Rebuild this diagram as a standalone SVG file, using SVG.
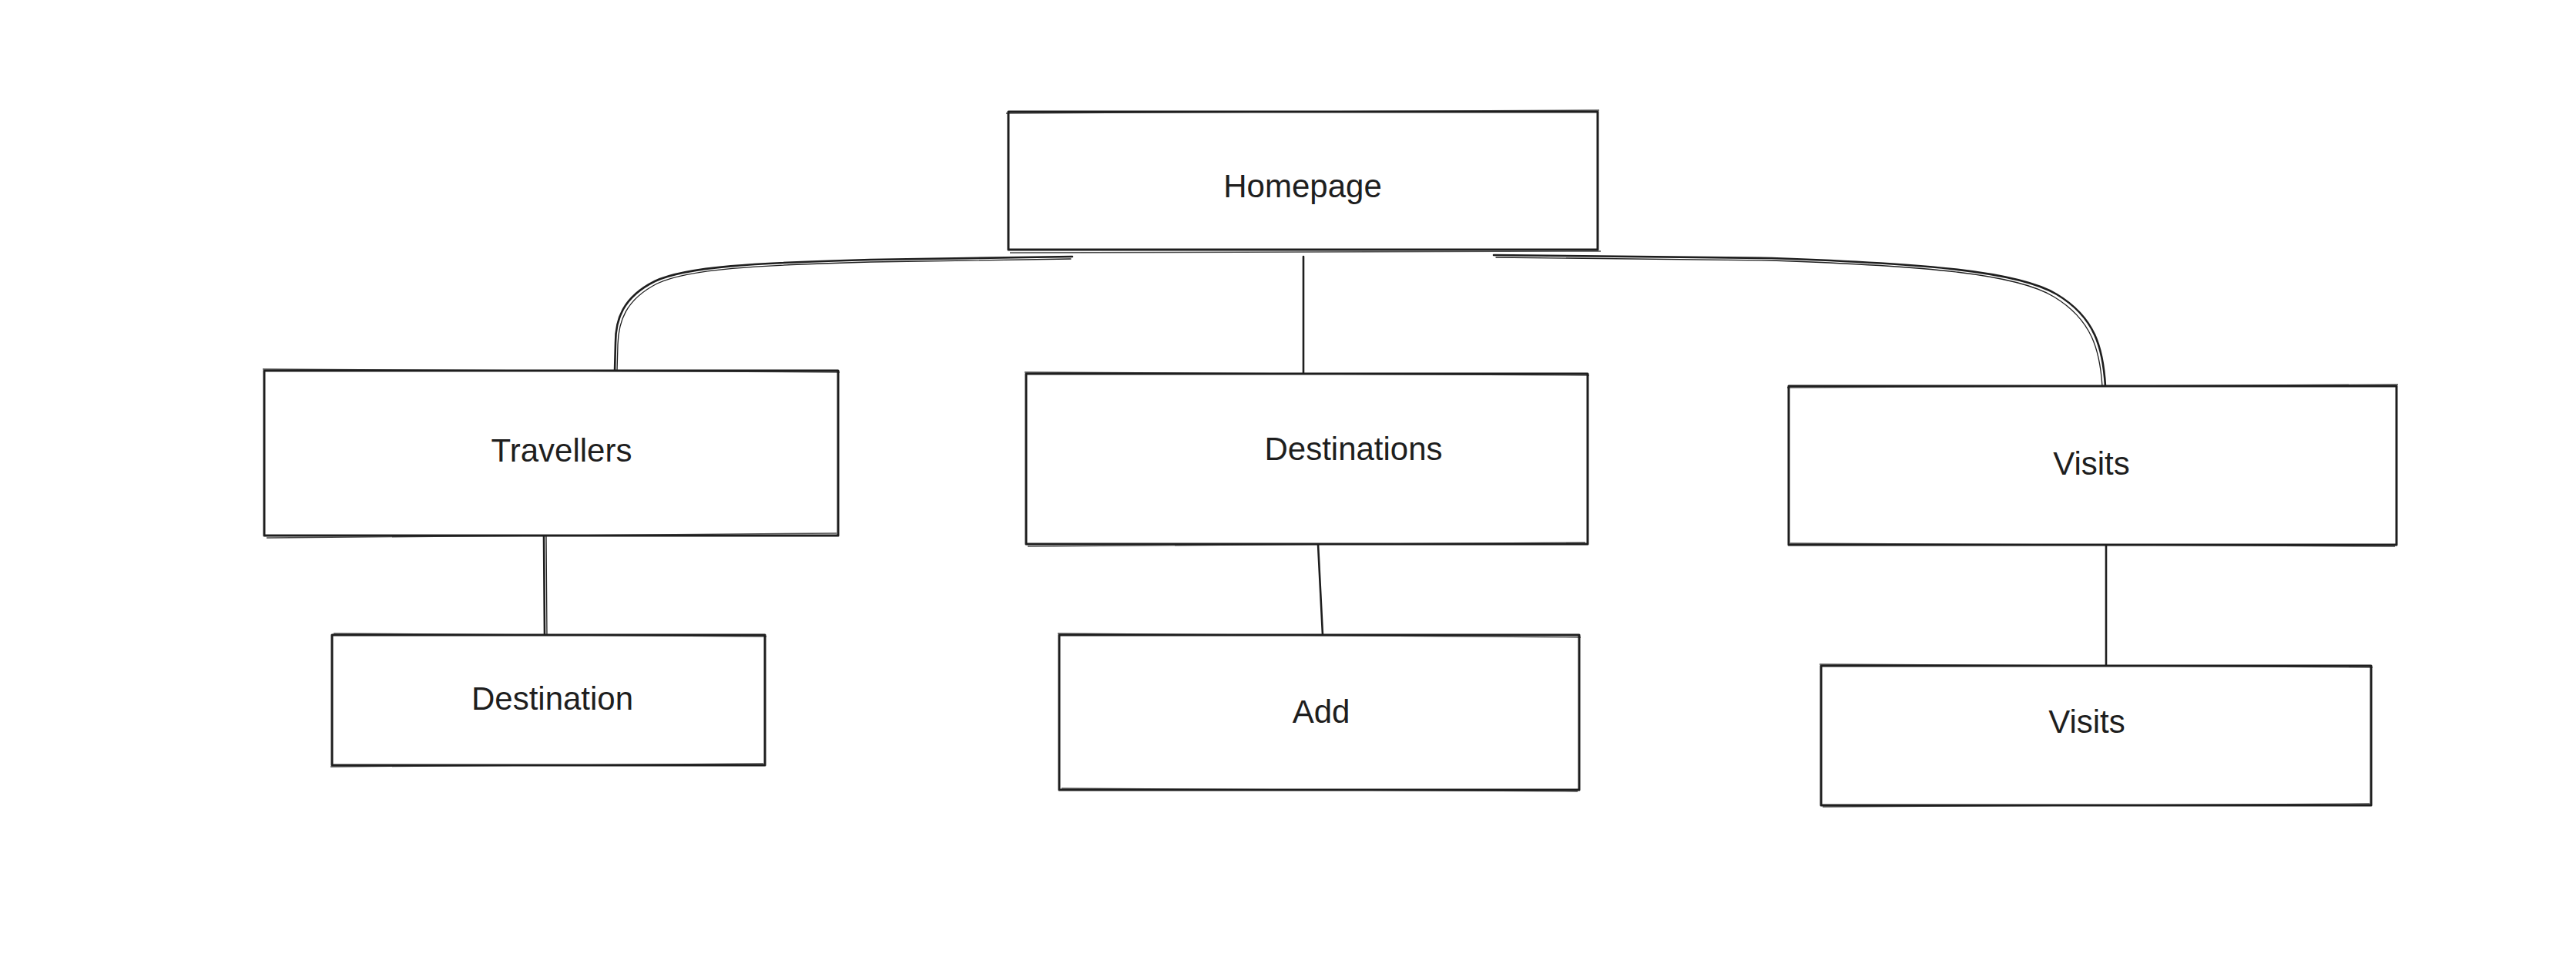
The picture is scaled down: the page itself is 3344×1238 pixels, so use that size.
<svg xmlns="http://www.w3.org/2000/svg" width="3344" height="1238" viewBox="0 0 3344 1238">
<style>
.box{fill:#ffffff;stroke:#1e1e1e;stroke-width:3;stroke-linejoin:round}
.box2{fill:none;stroke:#1e1e1e;stroke-width:1.4;opacity:0.8}
.lbl{font-family:"Liberation Sans",Arial,sans-serif;font-size:42px;fill:#1e1e1e;text-anchor:middle}
.con{fill:none;stroke:#1e1e1e;stroke-width:2.6;stroke-linecap:round}
.con2{fill:none;stroke:#1e1e1e;stroke-width:1.3;stroke-linecap:round}
</style>
<rect x="0" y="0" width="3344" height="1238" fill="#ffffff"/>
<g id="connectors">
<path class="con" d="M1392,333 L1130,337 C980,341 890,346 850,365 C808,386 799,415 799,445 L798,482"/>
<path class="con2" d="M1390,336 L1130,340 C982,344 893,349 853,368 C812,389 803,417 802,447 L801,482"/>
<path class="con" d="M1692,333 L1692,486"/>
<path class="con" d="M1939,331 L2300,335 C2500,342 2620,352 2670,382 C2720,412 2730,452 2733,501"/>
<path class="con2" d="M1942,334 L2300,338 C2498,345 2617,355 2666,385 C2716,415 2726,455 2729,501"/>
<path class="con" d="M706,695 L707,824"/>
<path class="con2" d="M709,695 L710,824"/>
<path class="con" d="M1711,706 L1717,824"/>
<path class="con" d="M2734,707 L2734,868"/>
</g>
<g id="homepage">
<rect class="box" x="1309" y="145" width="765" height="179"/>
<path class="box2" d="M1306,147 L2076,143 M1311,328 L2078,326"/>
<text class="lbl" x="1691" y="256">Homepage</text>
</g>
<g id="travellers">
<rect class="box" x="343" y="481" width="745" height="214"/>
<path class="box2" d="M341,479 L1090,483 M346,698 L1086,692"/>
<text class="lbl" x="729" y="599">Travellers</text>
</g>
<g id="destinations">
<rect class="box" x="1332" y="485" width="729" height="221"/>
<path class="box2" d="M1330,483 L2063,487 M1334,709 L2058,704"/>
<text class="lbl" x="1757" y="597">Destinations</text>
</g>
<g id="visits">
<rect class="box" x="2322" y="501" width="789" height="206"/>
<path class="box2" d="M2320,503 L3113,499 M2324,705 L3109,709"/>
<text class="lbl" x="2715" y="616">Visits</text>
</g>
<g id="destination">
<rect class="box" x="431" y="824" width="562" height="169"/>
<path class="box2" d="M433,822 L995,826 M429,995 L991,991"/>
<text class="lbl" x="717" y="921">Destination</text>
</g>
<g id="add">
<rect class="box" x="1375" y="824" width="675" height="201"/>
<path class="box2" d="M1373,822 L2052,827 M1378,1023 L2048,1027"/>
<text class="lbl" x="1715" y="938">Add</text>
</g>
<g id="visits2">
<rect class="box" x="2364" y="864" width="714" height="181"/>
<path class="box2" d="M2362,862 L3080,866 M2366,1047 L3076,1043"/>
<text class="lbl" x="2709" y="951">Visits</text>
</g>
</svg>
